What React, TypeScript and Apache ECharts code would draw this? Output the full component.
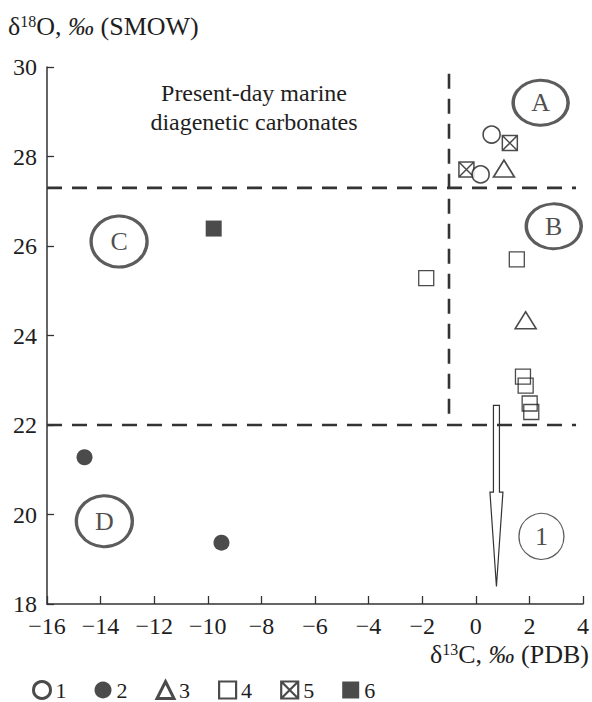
import React, { useEffect, useRef } from 'react';
import * as echarts from 'echarts';

// δ13C (x), δ18O (y)
const series1 = [[0.59, 28.49], [0.18, 27.6]];
const series2 = [[-14.6, 21.28], [-9.49, 19.37]];
const series3 = [[1.05, 27.73], [1.86, 24.34]];
const series4 = [[-1.85, 25.28], [1.53, 25.7], [1.76, 23.08], [1.86, 22.88], [2.01, 22.48], [2.07, 22.29]];
const series5 = [[1.27, 28.3], [-0.35, 27.71]];
const series6 = [[-9.78, 26.39]];

const legendNames = ['1', '2', '3', '4', '5', '6'];

// field boundaries
const oBoundaries = [27.3, 22.0];
const boundaryXExtent = [-16, 3.74];
const cBoundary = -1.0;
const cBoundaryYExtent = [29.85, 22.2];

// field labels: [x, y, label]
const fieldLabels: [number, number, string][] = [
  [2.42, 29.2, 'A'],
  [2.91, 26.44, 'B'],
  [-13.31, 26.1, 'C'],
  [-13.86, 19.85, 'D'],
];
const trendLabel: [number, number, string] = [2.45, 19.51, '1'];

// arrow: x, top y, shaft end y, tip y
const arrowData = [[0.77, 22.44, 20.5, 18.39]];

const xTicks = { min: -16, max: 4, interval: 2 };
const yTicks = { min: 18, max: 30, interval: 2 };

const FONT = '"Liberation Serif", "DejaVu Serif", serif';
const INK = '#1e1e1e';
const CROSS = 'path://M0,0 H10 V10 H0 Z M0,0 L10,10 M10,0 L0,10';

export default function App() {
  const ref = useRef<HTMLDivElement>(null);
  useEffect(() => {
    document.body.style.margin = '0';
    if (!ref.current) return;
    const chart = echarts.init(ref.current, undefined, { renderer: 'svg' });
    const openStyle = { color: '#fff', borderColor: INK, borderWidth: 1.6 };
    const hollowStyle = { color: 'rgba(0,0,0,0)', borderColor: INK, borderWidth: 1.3 };
    const dashed = { color: '#333', width: 2.6, type: [15, 10] as number[] };
    const minus = (v: number) => String(v).replace('-', '\u2212');
    const legendIcons = ['circle', 'circle', 'triangle', 'rect', CROSS, 'rect'];
    const legendStyles = [
      { color: '#fff', borderColor: INK, borderWidth: 3 },
      { color: INK },
      { color: '#fff', borderColor: INK, borderWidth: 3 },
      { color: '#fff', borderColor: INK, borderWidth: 2.2 },
      { color: '#fff', borderColor: INK, borderWidth: 2.2 },
      { color: INK },
    ];
    const titleRich = {
      a: { fontFamily: FONT, fontSize: 26, fill: INK, lineHeight: 26 },
      s: { fontFamily: FONT, fontSize: 16, fill: INK, verticalAlign: 'top', lineHeight: 16 },
      i: { fontFamily: FONT, fontSize: 26, fontStyle: 'italic', fill: INK, lineHeight: 26 },
    };

    chart.setOption({
      animation: false,
      grid: { left: 47, right: 8, top: 67, bottom: 98 },
      xAxis: {
        type: 'value', ...xTicks,
        axisLine: { onZero: false, lineStyle: { color: '#333', width: 1.5 } },
        axisTick: { inside: true, length: 8, lineStyle: { color: '#333', width: 1.3 } },
        splitLine: { show: false },
        axisLabel: { formatter: minus, fontFamily: FONT, fontSize: 24, lineHeight: 24, color: INK, margin: 10 },
      },
      yAxis: {
        type: 'value', ...yTicks,
        axisLine: { show: true, onZero: false, lineStyle: { color: '#333', width: 1.5 } },
        axisTick: { show: true, inside: true, length: 7, lineStyle: { color: '#333', width: 1.3 } },
        splitLine: { show: false },
        axisLabel: { fontFamily: FONT, fontSize: 24, color: INK, margin: 10 },
      },
      legend: {
        left: 32, top: 679, padding: 0, itemWidth: 17, itemHeight: 17, itemGap: 28,
        selectedMode: false,
        textStyle: { fontFamily: FONT, fontSize: 22, lineHeight: 22, color: INK },
        data: legendNames.map((n, i) => ({ name: n, icon: legendIcons[i], itemStyle: legendStyles[i] })),
      },
      series: [
        { name: 'bO1', type: 'line', symbol: 'none', silent: true, lineStyle: dashed, data: boundaryXExtent.map((x) => [x, oBoundaries[0]]) },
        { name: 'bO2', type: 'line', symbol: 'none', silent: true, lineStyle: dashed, data: boundaryXExtent.map((x) => [x, oBoundaries[1]]) },
        { name: 'bC', type: 'line', symbol: 'none', silent: true, lineStyle: dashed, data: cBoundaryYExtent.map((y) => [cBoundary, y]) },
        {
          name: 'arrow', type: 'custom', silent: true, data: arrowData,
          encode: { x: 0, y: [1, 2, 3] },
          renderItem: (params: any, api: any) => {
            const x = api.value(0);
            const top = api.coord([x, api.value(1)]);
            const mid = api.coord([x, api.value(2)]);
            const tip = api.coord([x, api.value(3)]);
            const cx = top[0];
            return {
              type: 'polygon',
              shape: {
                points: [
                  [cx - 3, top[1]], [cx + 3, top[1]], [cx + 3, mid[1]], [cx + 6.5, mid[1]],
                  [cx, tip[1]], [cx - 6.5, mid[1]], [cx - 3, mid[1]],
                ],
              },
              style: { fill: 'none', stroke: '#333', lineWidth: 1.2 },
            };
          },
        },
        {
          name: 'fields', type: 'scatter', silent: true,
          data: fieldLabels.map(([x, y, n], i) => ({
            value: [x, y], name: n, symbolSize: i < 2 ? [55, 45] : [56, 51],
          })),
          itemStyle: { color: 'rgba(0,0,0,0)', borderColor: '#333', borderWidth: 3.2 },
          label: { show: true, position: 'inside', formatter: '{b}', fontFamily: FONT, fontSize: 26, color: INK },
        },
        {
          name: 'trend', type: 'scatter', silent: true,
          data: [{ value: [trendLabel[0], trendLabel[1]], name: trendLabel[2] }],
          symbolSize: [45, 46],
          itemStyle: { color: 'rgba(0,0,0,0)', borderColor: '#333', borderWidth: 1.3 },
          label: { show: true, position: 'inside', formatter: '{b}', fontFamily: FONT, fontSize: 26, color: INK },
        },
        { name: '4', type: 'scatter', data: series4, symbol: 'rect', symbolSize: 15, itemStyle: hollowStyle },
        { name: '5', type: 'scatter', data: series5, symbol: CROSS, symbolSize: 15, itemStyle: { ...hollowStyle, borderWidth: 1.5 } },
        { name: '1', type: 'scatter', data: series1, symbol: 'circle', symbolSize: 17, itemStyle: openStyle },
        { name: '3', type: 'scatter', data: series3, symbol: 'triangle', symbolSize: [21, 17], itemStyle: openStyle },
        { name: '2', type: 'scatter', data: series2, symbol: 'circle', symbolSize: 16, itemStyle: { color: INK } },
        { name: '6', type: 'scatter', data: series6, symbol: 'rect', symbolSize: 16, itemStyle: { color: INK } },
      ],
      graphic: [
        {
          type: 'text', left: 8, top: 13,
          style: { text: '{a|δ}{s|18}{a|O, }{i|‰}{a| (SMOW)}', rich: titleRich },
        },
        {
          type: 'text', right: 3, top: 641,
          style: { text: '{a|δ}{s|13}{a|C, }{i|‰}{a| (PDB)}', rich: titleRich },
        },
        {
          type: 'text', x: 254, y: 78,
          style: {
            text: 'Present-day marine\ndiagenetic carbonates',
            font: `24px ${FONT}`, fill: INK, align: 'center', verticalAlign: 'top', lineHeight: 29,
          },
        },
      ],
    });
    return () => chart.dispose();
  }, []);
  return <div ref={ref} style={{ width: 592, height: 702 }} />;
}
